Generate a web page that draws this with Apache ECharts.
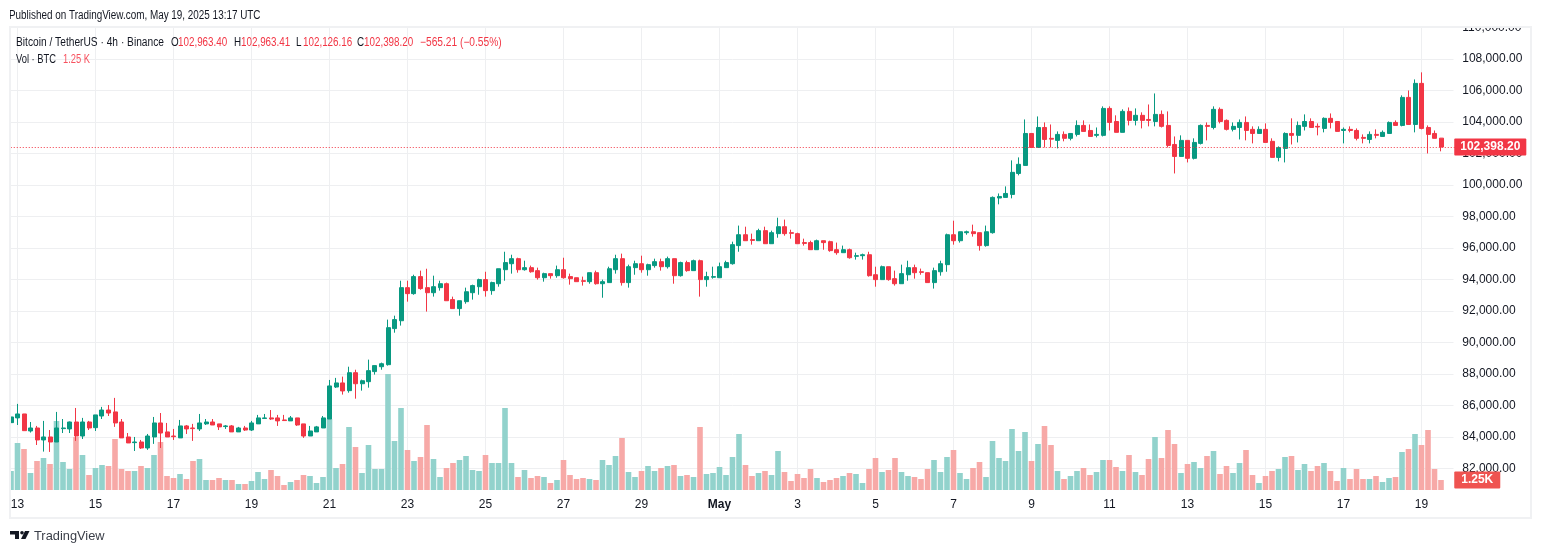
<!DOCTYPE html>
<html>
<head>
<meta charset="utf-8">
<title>BTCUSDT 4h</title>
<script src="https://cdn.jsdelivr.net/npm/echarts@6/dist/echarts.min.js"></script>
<style>
html, body { margin: 0; padding: 0; background: #fff; }
#plot { width: 1542px; height: 553px; }
</style>
</head>
<body>
<div id="plot"></div>
<script>
// prices, one row per 12 bars (2 days)
const opens = [
84900,85200,85450,84370,84560,83800,83990,83670,84520,84500,84940,84050,84940,
84580,85320,85700,85580,84940,83990,83630,83670,83290,83990,84880,84310,
84050,83930,84690,84560,84500,84820,84940,84820,84650,84690,84310,84560,
84430,84820,85160,85200,85200,85070,85010,85200,84820,84050,84310,84560,
85130,87160,87420,86930,88070,87370,87500,88140,88450,88580,90870,91370,
93470,93090,94170,93470,93150,93470,93720,92710,92140,92580,93150,93530,
93980,93280,93720,94610,94990,95310,94610,94740,94550,94100,94360,94230,
94610,94170,94100,93910,93850,94420,93720,93790,94610,95310,93790,94740,
94990,94610,94870,95120,94800,95310,94230,95060,94550,95180,93980,94130,
94100,94740,94990,96140,96830,96520,96450,97090,96260,96900,97340,96960,
96900,96330,96330,95880,96450,96390,95880,95690,95880,95460,95500,95560,
94290,93980,94800,94040,93720,94290,94740,94480,94420,93790,94480,94930,
96830,96450,96960,97020,96960,96140,96960,99160,99200,99390,100720,101230,
103260,102370,103640,102950,102820,103200,102950,103200,103770,103450,103140,103140,
104850,104020,103330,104660,104090,104410,104150,104020,104470,103770,102560,101800,
102820,101680,102630,103770,103640,104790,104090,103520,103640,103960,103520,103260,
103520,102760,101740,102310,103260,103140,103710,104020,103710,103580,104220,104020,
103450,103520,103450,103010,102880,103200,103070,103260,103960,103770,105550,103830,
106440,103640,103260,102963.40];
const closes = [
85260,85450,84390,84560,83800,83990,83670,84560,84560,84940,84050,84940,84560,
85390,85700,85510,84880,83930,83610,83670,83290,84050,84880,84240,83990,
84010,84690,84500,84520,84880,84940,84750,84630,84690,84310,84560,84430,
84880,85200,85200,85130,85010,85030,85200,84750,84050,84370,84630,85200,
87230,87420,86910,88070,87370,87560,88200,88520,88640,90930,91440,93470,
93090,94170,93410,93150,93530,93720,92640,92140,92640,93210,93600,93980,
93280,93790,94670,95060,95310,94610,94740,94480,94100,94360,94230,94610,
94100,94040,93850,93870,94420,93720,93850,94670,95310,93790,94800,94990,
94610,94930,95120,94800,95310,94230,95060,94550,95180,93980,94170,94170,
94800,95060,96200,96830,96450,96470,97090,96260,96960,97340,96900,96920,
96260,96280,95880,96450,96330,95820,95690,95880,95370,95500,95560,94230,
93980,94800,93980,93720,94360,94740,94420,94440,93790,94550,94990,96830,
96450,97020,97020,96900,96140,97020,99200,99260,99450,100790,101300,103260,
102370,103640,102880,102900,103200,102950,103260,103770,103390,103070,103200,104850,
103960,103330,104660,104090,104410,104090,104090,104470,103710,102500,101800,102820,
101680,102690,103770,103710,104790,104020,103520,103710,103960,103450,103260,103520,
102690,101740,102370,103260,103140,103770,104020,103640,103670,104220,103960,103390,
103520,103450,102950,102950,103200,103140,103330,103960,103770,105550,103830,106440,
103580,103200,102950,102398.20];
const lows = [
84900,84750,84390,84270,83480,83060,83040,83670,84240,84240,83740,83860,84430,
84370,85130,85320,84630,83930,83610,83100,83230,83170,83550,83290,83990,
83800,83930,84180,83740,84370,84750,84750,84430,84500,84310,84310,84370,
84370,84820,85130,85070,84690,85010,85010,84690,83930,84050,84310,84560,
85130,87100,86680,86800,86420,86930,87120,87950,88260,88520,90610,91060,
92580,93020,93340,91950,92900,93280,92640,92140,91690,92450,92710,93020,
92900,93020,93530,93910,94360,94420,94550,94420,93980,93850,94040,94100,
94040,93660,93850,93600,93720,93660,92830,93790,94360,93600,93470,94290,
94420,94230,94740,94550,94680,93720,94170,94480,94550,92900,93530,94040,
94100,94740,94930,95750,96450,96200,96450,96260,96260,96640,96770,96580,
96260,96140,95880,95880,95880,95750,95560,95690,95310,95250,95250,94170,
93530,93980,93910,93600,93720,93910,94040,94290,93790,93410,94230,94480,
96200,96330,96830,96710,95820,96070,96900,98760,99200,99140,100600,101230,
102370,102370,102370,102370,102310,102760,102820,103070,103390,103070,103010,103070,
103450,103330,103330,103770,103770,103580,103710,103710,103640,102370,100720,101800,
101420,101610,102560,102820,103520,103900,103450,103390,102880,102820,102630,103260,
102690,101740,101490,101420,102560,102690,103450,103640,103140,103330,103580,103390,
102630,103330,102820,102630,102630,102950,103070,103260,103770,103710,103830,103330,
103520,101990,102950,102126.16];
const highs = [
85920,86090,85450,84940,84690,85010,84430,85580,85130,84970,85830,85200,85010,
85390,85900,86020,86470,85130,84240,83990,83800,84180,85260,85510,84880,
84500,85070,84750,84820,85450,85130,85130,84820,84750,84750,84630,84690,
85010,85390,85450,85700,85390,85390,85320,85200,84820,84690,84690,85320,
87610,87740,87820,88450,88260,87630,88900,88520,88710,91440,91690,93910,
93910,94290,94550,94670,94230,93910,93790,92900,92640,93470,93660,94040,
94480,93850,94670,95750,95560,95370,95180,94870,94740,94420,94360,94870,
95370,94360,94100,94170,94420,94550,93980,94800,95560,95630,94930,95180,
95500,94990,95310,95310,95440,95310,95120,95180,95250,95250,94480,94800,
95060,95180,96390,97410,97340,96900,97210,97340,97090,97910,97790,97150,
96960,96580,96450,96520,96450,96450,96330,96140,95950,95690,95630,95750,
94800,94870,94800,94550,94930,95180,94930,94680,94420,94740,95180,96900,
97720,97020,97090,97470,96960,97410,99260,99450,99900,101550,101740,104150,
103260,104340,103960,103830,103390,103390,103260,104090,104090,103830,103640,104980,
104980,104410,104790,104910,104850,104600,105100,105800,104720,104660,103070,103140,
102820,102950,103830,103960,104980,104910,104150,103960,104150,104340,103710,103710,
103900,102950,102440,103330,104220,104020,104470,104220,103900,104280,104530,104020,
103640,103710,103580,103200,103390,103520,103450,104020,104090,105680,105990,106690,
107140,103770,103450,102963.41];
// volume in BTC
const volumes = [
2375,5875,5125,2125,3625,4000,3250,8625,3500,2625,6625,4375,1875,
2750,3125,3000,6375,2625,2375,2375,3000,2750,4375,6000,1750,
1500,2000,1375,3625,3875,1250,1250,1500,1250,1250,750,750,
1125,2250,1375,2500,1750,625,1000,1250,1875,1750,875,1625,
8875,2750,3250,7875,5375,2125,5625,2625,2625,14500,6125,10250,
5000,3625,4125,8125,3875,1625,2750,3375,3750,4250,2500,2375,
4375,3375,3375,10250,3375,1625,2500,1500,1750,1625,875,1250,
3750,1875,1375,1500,1375,1250,3750,3125,4250,6500,2250,1625,
2375,3000,2375,2750,3000,3125,1750,1875,1625,7875,2000,2125,
2875,1875,4125,7000,3125,1750,2125,2375,1875,4875,2250,1125,
2000,1500,2625,1500,1000,1250,1500,1750,2125,2000,875,2625,
4000,2250,2500,4000,2250,1750,1625,1375,2625,3750,2250,4125,
5000,2125,1375,2750,3500,1625,6125,4000,3625,7625,4875,7250,
3625,5750,8000,5625,2375,1375,1750,2375,2750,1875,2250,3750,
3750,2875,2375,4375,2250,1875,3875,6625,4000,7500,5750,2125,
3250,3500,2750,4250,4875,2000,3000,2125,3375,5000,1875,875,
1750,2375,2625,4125,4250,2500,3250,2375,3000,3375,2375,1125,
2750,1375,2625,1375,1375,1750,1000,1500,1625,4750,5125,7000,
5625,7500,2625,1250];
// date labels, one every 12 bars starting at the second bar
const tickLabels = ['13','15','17','19','21','23','25','27','29','May','3','5','7','9','11','13','15','17','19'];
const priceLabelMin = 82000;

const titleText = 'Published on TradingView.com, May 19, 2025 13:17 UTC';
const symbolText = 'Bitcoin / TetherUS \u00b7 4h \u00b7 Binance';
const volText = 'Vol \u00b7 BTC';
const ohlcNames = ['O','H','L','C'];
const ohlcTexts = ['102,963.40','102,963.41','102,126.16','102,398.20'];
const changeText = '\u2212565.21 (\u22120.55%)';
const lastPriceText = '102,398.20';
const lastVolText = '1.25K';

const GREEN = '#089981', RED = '#F23645';
const GRID_COLOR = '#EEEFF1';
const FONT = '"Liberation Sans", Arial, sans-serif';
const BAR_COUNT = opens.length;
const SLOTS = 223; // two empty slots on the right of the last bar

const categories = [];
for (let i = 0; i < SLOTS; i++) categories.push(String(i));

function isTick(i) {
    return i >= 1 && (i - 1) % 12 === 0 && (i - 1) / 12 < tickLabels.length;
}

let candleData = [];
let volumeData = [];
for (let i = 0; i < BAR_COUNT; i++) {
    candleData.push([opens[i], closes[i], lows[i], highs[i]]);
    volumeData.push({
        value: volumes[i],
        itemStyle: { color: closes[i] >= opens[i] ? '#92D2CC' : '#F7A9A7' }
    });
}

// the reference font is narrower than anything installed, so squeeze the text a little
function headerText(x, y, text, color, squeeze, size) {
    return { type: 'text', z: 11, silent: true, x: x, y: y, scaleX: squeeze || 0.82,
        style: { text: text, fill: color, font: (size || 12) + 'px ' + FONT, textVerticalAlign: 'middle' } };
}

let graphics = [
    // masks that keep the panes inside the frame
    { type: 'rect', z: 10, silent: true, shape: { x: 0, y: 0, width: 1542, height: 27 }, style: { fill: '#fff' } },
    { type: 'rect', z: 31, silent: true, shape: { x: 0, y: 0, width: 10, height: 553 }, style: { fill: '#fff' } },
    { type: 'rect', z: 10, silent: true, shape: { x: 1453.5, y: 27, width: 5, height: 464 }, style: { fill: '#fff' } },
    { type: 'rect', z: 32, silent: true, shape: { x: 10, y: 27, width: 1521, height: 491 },
        style: { fill: 'none', stroke: '#F0F1F3', lineWidth: 2 } },
    headerText(9, 15.5, titleText, '#131722', 0.825),
    headerText(16, 42.5, symbolText, '#131722', 0.85),
    headerText(171, 42.5, ohlcNames[0], '#131722'),
    headerText(178, 42.5, ohlcTexts[0], RED),
    headerText(234, 42.5, ohlcNames[1], '#131722'),
    headerText(241, 42.5, ohlcTexts[1], RED),
    headerText(296, 42.5, ohlcNames[2], '#131722'),
    headerText(303, 42.5, ohlcTexts[2], RED),
    headerText(357, 42.5, ohlcNames[3], '#131722'),
    headerText(364, 42.5, ohlcTexts[3], RED),
    headerText(420, 42.5, changeText, RED, 0.85),
    headerText(16, 59.5, volText, '#131722', 0.78),
    headerText(63, 59.5, '1.25 K', '#F7525F', 0.78),
    // TradingView logo
    { type: 'polygon', z: 11, silent: true, shape: { points: [[10,531],[19,531],[19,539],[15,539],[15,534.5],[10,534.5]] }, style: { fill: '#131722' } },
    { type: 'circle', z: 11, silent: true, shape: { cx: 22, cy: 532.8, r: 1.8 }, style: { fill: '#131722' } },
    { type: 'polygon', z: 11, silent: true, shape: { points: [[25,531],[29.5,531],[25.5,539],[21,539]] }, style: { fill: '#131722' } },
    headerText(34, 536.5, 'TradingView', '#3a3e48', 0.95, 13.5)
];

const chart = echarts.init(document.getElementById('plot'));
chart.setOption({
    animation: false,
    backgroundColor: '#fff',
    textStyle: { fontFamily: FONT },
    grid: [
        { left: 7.75, width: 1449.5, top: 27.3, height: 472.5 },
        { left: 7.75, width: 1449.5, top: 27, height: 463 }
    ],
    xAxis: [
        { type: 'category', gridIndex: 0, data: categories, show: false },
        {
            type: 'category', gridIndex: 1, data: categories,
            axisLine: { show: false },
            axisTick: { show: false, alignWithLabel: true, interval: function (i) { return isTick(i); } },
            splitLine: {
                show: true, alignWithLabel: true,
                interval: function (i) { return isTick(i); },
                lineStyle: { color: GRID_COLOR, width: 1 }
            },
            axisLabel: {
                interval: function (i) { return isTick(i); },
                margin: 9, fontSize: 12, color: '#131722', fontFamily: FONT,
                formatter: function (value, i) {
                    let text = tickLabels[(i - 1) / 12];
                    return text === 'May' ? '{b|May}' : text;
                },
                rich: { b: { fontWeight: 'bold', fontSize: 12, color: '#131722', fontFamily: FONT } }
            }
        }
    ],
    yAxis: [
        {
            type: 'value', gridIndex: 0, position: 'right',
            min: 80000, max: 110000, interval: 2000,
            axisLine: { show: false }, axisTick: { show: false },
            splitLine: { show: true, showMinLine: false, showMaxLine: false, lineStyle: { color: GRID_COLOR, width: 1 } },
            axisLabel: {
                margin: 5, fontSize: 12, color: '#131722', fontFamily: FONT,
                formatter: function (v) {
                    if (v < priceLabelMin) return '';
                    return v.toLocaleString('en-US', { minimumFractionDigits: 2, maximumFractionDigits: 2 });
                }
            }
        },
        { type: 'value', gridIndex: 1, min: 0, max: 57875, show: false }
    ],
    series: [
        {
            type: 'bar', xAxisIndex: 1, yAxisIndex: 1, z: 1,
            barWidth: 5.6, data: volumeData, silent: true,
            markLine: {
                silent: true, symbol: 'none', z: 30, animation: false,
                lineStyle: { width: 0, opacity: 0 },
                label: {
                    position: 'end', distance: -3, formatter: lastVolText, color: '#fff', opacity: 1,
                    fontFamily: FONT, fontSize: 12, fontWeight: 'bold',
                    backgroundColor: '#EF5350', padding: [3, 7, 2, 7], borderRadius: 1
                },
                data: [{ yAxis: volumes[BAR_COUNT - 1] }]
            }
        },
        {
            type: 'candlestick', xAxisIndex: 0, yAxisIndex: 0, z: 2,
            barWidth: 4.5, data: candleData, silent: true,
            itemStyle: { color: GREEN, color0: RED, borderColor: GREEN, borderColor0: RED, borderWidth: 1 },
            markLine: {
                silent: true, symbol: 'none', z: 30, animation: false,
                lineStyle: { color: RED, width: 1, type: [1, 2] },
                label: {
                    position: 'end', distance: -3, formatter: lastPriceText, color: '#fff',
                    fontFamily: FONT, fontSize: 12, fontWeight: 'bold',
                    backgroundColor: RED, padding: [3, 6, 2, 6], borderRadius: 1
                },
                data: [{ yAxis: closes[BAR_COUNT - 1] }]
            }
        }
    ],
    graphic: { elements: graphics }
});
</script>
</body>
</html>
